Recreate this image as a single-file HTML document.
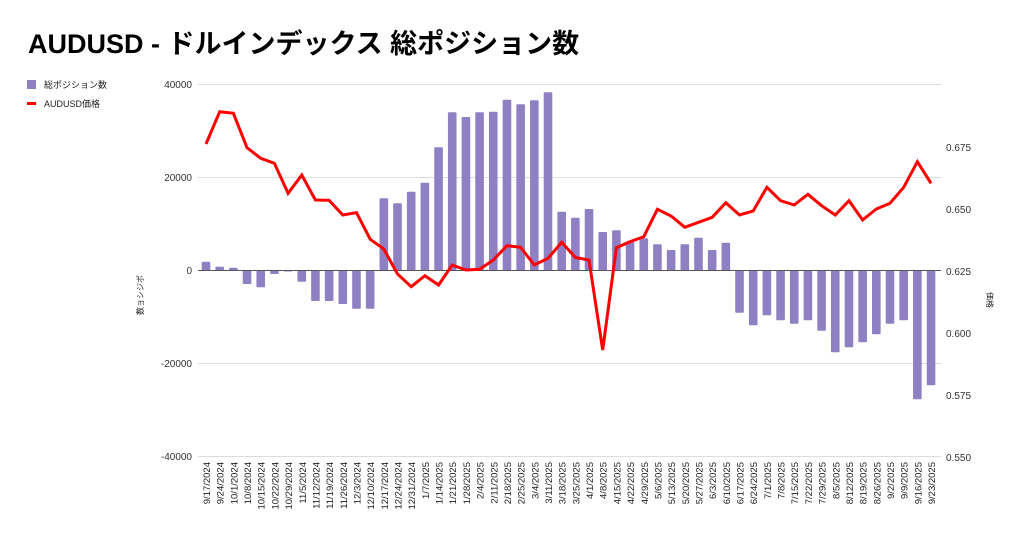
<!DOCTYPE html>
<html><head><meta charset="utf-8"><style>
body{margin:0;background:#fff;width:1024px;height:540px;overflow:hidden}
svg{font-family:"Liberation Sans","Noto Sans CJK JP",sans-serif}
</style></head><body>
<svg id="s" width="1024" height="540" viewBox="0 0 1024 540" xmlns="http://www.w3.org/2000/svg">
<text x="28" y="53" font-size="27" font-weight="bold" fill="#000">AUDUSD - ドルインデックス 総ポジション数</text>
<rect x="27" y="80" width="9" height="9" fill="#8e80c2"/>
<text x="44" y="88" font-size="9" fill="#222">総ポジション数</text>
<rect x="27" y="102" width="9" height="3" fill="#f00"/>
<text x="44" y="107" font-size="9" fill="#222">AUDUSD価格</text>
<g stroke="#ddd" stroke-width="1">
<line x1="198" x2="941" y1="84.5" y2="84.5"/><line x1="198" x2="941" y1="177.5" y2="177.5"/>
<line x1="198" x2="941" y1="363.5" y2="363.5"/><line x1="198" x2="941" y1="456.5" y2="456.5"/>
</g>
<g font-size="10" fill="#333" text-anchor="end">
<text x="192" y="88">40000</text><text x="192" y="181">20000</text><text x="192" y="274">0</text>
<text x="192" y="367">-20000</text><text x="192" y="460">-40000</text>
</g>
<g font-size="10" fill="#333">
<text x="946" y="151">0.675</text><text x="946" y="213">0.650</text><text x="946" y="275">0.625</text>
<text x="946" y="337">0.600</text><text x="946" y="399">0.575</text><text x="946" y="461">0.550</text>
</g>
<text transform="translate(143,295) rotate(-90)" font-size="8" fill="#222" text-anchor="middle">数ョシジポ</text>
<text transform="translate(987,300) rotate(90)" font-size="8" fill="#222" text-anchor="middle">価格</text>
<g id="bars" fill="#8e80c2"></g>
<line x1="198" x2="941" y1="270.5" y2="270.5" stroke="#555" stroke-width="1"/>
<polyline id="ln" fill="none" stroke="#f00" stroke-width="3" stroke-linejoin="miter"/>
<g font-size="9.5" fill="#222" text-anchor="end">
<text transform="translate(210,462) rotate(-90)">9/17/2024</text>
<text transform="translate(223.7,462) rotate(-90)">9/24/2024</text>
<text transform="translate(237.4,462) rotate(-90)">10/1/2024</text>
<text transform="translate(251,462) rotate(-90)">10/8/2024</text>
<text transform="translate(264.7,462) rotate(-90)">10/15/2024</text>
<text transform="translate(278.4,462) rotate(-90)">10/22/2024</text>
<text transform="translate(292.1,462) rotate(-90)">10/29/2024</text>
<text transform="translate(305.8,462) rotate(-90)">11/5/2024</text>
<text transform="translate(319.4,462) rotate(-90)">11/12/2024</text>
<text transform="translate(333.1,462) rotate(-90)">11/19/2024</text>
<text transform="translate(346.8,462) rotate(-90)">11/26/2024</text>
<text transform="translate(360.5,462) rotate(-90)">12/3/2024</text>
<text transform="translate(374.2,462) rotate(-90)">12/10/2024</text>
<text transform="translate(387.8,462) rotate(-90)">12/17/2024</text>
<text transform="translate(401.5,462) rotate(-90)">12/24/2024</text>
<text transform="translate(415.2,462) rotate(-90)">12/31/2024</text>
<text transform="translate(428.9,462) rotate(-90)">1/7/2025</text>
<text transform="translate(442.6,462) rotate(-90)">1/14/2025</text>
<text transform="translate(456.2,462) rotate(-90)">1/21/2025</text>
<text transform="translate(469.9,462) rotate(-90)">1/28/2025</text>
<text transform="translate(483.6,462) rotate(-90)">2/4/2025</text>
<text transform="translate(497.3,462) rotate(-90)">2/11/2025</text>
<text transform="translate(511,462) rotate(-90)">2/18/2025</text>
<text transform="translate(524.6,462) rotate(-90)">2/25/2025</text>
<text transform="translate(538.3,462) rotate(-90)">3/4/2025</text>
<text transform="translate(552,462) rotate(-90)">3/11/2025</text>
<text transform="translate(565.7,462) rotate(-90)">3/18/2025</text>
<text transform="translate(579.4,462) rotate(-90)">3/25/2025</text>
<text transform="translate(593,462) rotate(-90)">4/1/2025</text>
<text transform="translate(606.7,462) rotate(-90)">4/8/2025</text>
<text transform="translate(620.4,462) rotate(-90)">4/15/2025</text>
<text transform="translate(634.1,462) rotate(-90)">4/22/2025</text>
<text transform="translate(647.8,462) rotate(-90)">4/29/2025</text>
<text transform="translate(661.4,462) rotate(-90)">5/6/2025</text>
<text transform="translate(675.1,462) rotate(-90)">5/13/2025</text>
<text transform="translate(688.8,462) rotate(-90)">5/20/2025</text>
<text transform="translate(702.5,462) rotate(-90)">5/27/2025</text>
<text transform="translate(716.2,462) rotate(-90)">6/3/2025</text>
<text transform="translate(729.8,462) rotate(-90)">6/10/2025</text>
<text transform="translate(743.5,462) rotate(-90)">6/17/2025</text>
<text transform="translate(757.2,462) rotate(-90)">6/24/2025</text>
<text transform="translate(770.9,462) rotate(-90)">7/1/2025</text>
<text transform="translate(784.6,462) rotate(-90)">7/8/2025</text>
<text transform="translate(798.2,462) rotate(-90)">7/15/2025</text>
<text transform="translate(811.9,462) rotate(-90)">7/22/2025</text>
<text transform="translate(825.6,462) rotate(-90)">7/29/2025</text>
<text transform="translate(839.3,462) rotate(-90)">8/5/2025</text>
<text transform="translate(853,462) rotate(-90)">8/12/2025</text>
<text transform="translate(866.6,462) rotate(-90)">8/19/2025</text>
<text transform="translate(880.3,462) rotate(-90)">8/26/2025</text>
<text transform="translate(894,462) rotate(-90)">9/2/2025</text>
<text transform="translate(907.7,462) rotate(-90)">9/9/2025</text>
<text transform="translate(921.4,462) rotate(-90)">9/16/2025</text>
<text transform="translate(935,462) rotate(-90)">9/23/2025</text>
</g>
</svg>
<script>
var b=[261.7,266.7,267.7,284,287.3,274,271.5,281.7,301,301,304,308.7,308.7,198.3,203.3,191.7,182.7,147.3,112.3,117,112.3,111.7,99.7,104.3,100.3,92.3,211.7,217.7,209,232,230.3,241.7,238.3,244.3,250,244.3,237.7,250,242.7,312.7,325.3,315.3,320.3,323.7,320.3,330.7,352.3,347.3,342.3,334.3,323.7,320.3,399.3,385.3];
var l=[144,111.7,113.3,147.7,158.3,163.3,193.3,175,200,200.3,215,212.7,239.3,249,274,286.7,275.7,285,265,270,269.3,260,245.7,247.3,265,258.3,242.3,257.5,260,350,247.7,241.7,236.7,209.3,216,227.3,222.3,217.3,202.7,215,211,187.3,200.7,205,194.3,205.7,215,200.7,220,209,203.3,187.3,161.7,183.3];
var g=document.getElementById('bars'),ns="http://www.w3.org/2000/svg",pts=[];
for(var i=0;i<54;i++){var cx=206+i*13.68,z=270.5,y0=Math.min(b[i],z),y1=Math.max(b[i],z);
var r=document.createElementNS(ns,'rect');r.setAttribute('x',cx-4.3);r.setAttribute('width',8.6);r.setAttribute('y',y0);r.setAttribute('height',Math.max(y1-y0,0.8));r.setAttribute('rx',1);g.appendChild(r);
pts.push(cx.toFixed(1)+','+l[i]);}
document.getElementById('ln').setAttribute('points',pts.join(' '));
</script>
</body></html>
